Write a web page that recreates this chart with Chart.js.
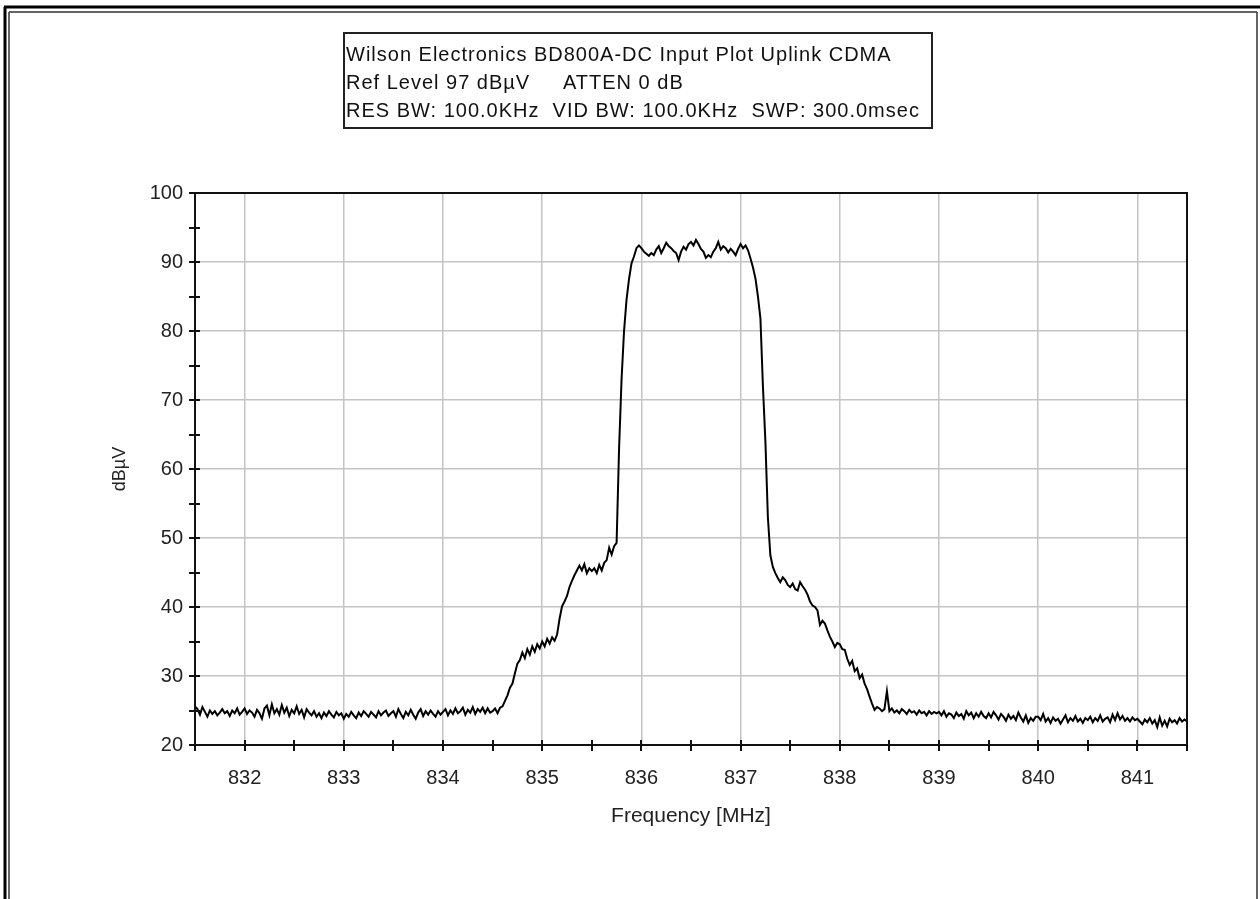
<!DOCTYPE html>
<html lang="en">
<head>
<meta charset="UTF-8">
<title>BD800A-DC Input Plot Uplink CDMA</title>
<script src="https://cdn.jsdelivr.net/npm/chart.js"></script>
<style>
  html, body { margin: 0; padding: 0; background: #fff; }
</style>
</head>
<body>
<canvas id="myChart" width="1260" height="899"></canvas>
<script>
// spectrum trace, one reading every 25 kHz starting at 831.5 MHz
const freqStart = 831.5;
const freqStep = 0.025;
const level = [
  25.6, 25.2, 24.4, 25.5, 24.8, 24.1, 25.0, 24.5, 24.9, 24.3, 24.7, 25.2, 24.6, 24.9, 24.2, 25.0, 24.6, 25.3, 24.4, 24.8, // 831.5
  25.3, 24.5, 25.0, 24.7, 24.1, 25.1, 24.6, 23.8, 25.3, 25.7, 24.3, 25.9, 24.6, 25.2, 24.4, 25.8, 24.7, 25.4, 24.2, 25.1, // 832.0
  24.6, 25.6, 24.5, 25.1, 24.0, 25.2, 24.7, 24.3, 24.9, 24.1, 24.6, 23.9, 24.7, 24.2, 24.9, 24.4, 24.0, 24.8, 24.3, 24.6, // 832.5
  23.8, 24.5, 24.1, 24.8, 24.3, 23.9, 24.7, 24.2, 24.9, 24.5, 24.1, 24.8, 24.4, 24.0, 24.9, 24.3, 24.7, 25.0, 24.2, 24.6, // 833.0
  24.9, 24.1, 25.2, 24.5, 23.9, 24.8, 24.3, 25.1, 24.4, 23.8, 24.7, 25.2, 24.2, 24.9, 24.4, 25.0, 24.5, 24.1, 24.9, 24.4, // 833.5
  24.8, 25.2, 24.3, 25.0, 24.5, 25.3, 24.6, 24.9, 25.4, 24.4, 25.1, 24.7, 25.5, 24.5, 25.2, 24.8, 25.4, 24.6, 25.3, 24.7, // 834.0
  24.9, 25.3, 24.6, 25.4, 25.6, 26.4, 27.2, 28.3, 28.9, 30.4, 31.8, 32.3, 33.4, 32.6, 33.9, 33.1, 34.3, 33.5, 34.6, 34.0, // 834.5
  35.0, 34.3, 35.4, 34.7, 35.6, 35.1, 36.0, 38.3, 40.1, 40.8, 41.6, 42.9, 43.8, 44.6, 45.3, 46.0, 45.3, 46.2, 44.9, 45.6, // 835.0
  45.2, 45.6, 44.9, 46.1, 45.3, 46.4, 46.8, 48.6, 47.6, 48.8, 49.3, 63.0, 73.0, 80.0, 84.5, 87.5, 89.8, 90.8, 92.0, 92.4, // 835.5
  92.0, 91.5, 91.2, 90.9, 91.3, 91.0, 91.8, 92.3, 91.3, 92.0, 92.8, 92.3, 92.0, 91.6, 91.3, 90.3, 91.5, 92.2, 91.8, 92.6, // 836.0
  92.9, 92.4, 93.2, 92.6, 91.9, 91.5, 90.6, 91.0, 90.7, 91.5, 92.0, 92.9, 91.8, 92.3, 92.0, 91.4, 91.9, 91.5, 91.0, 91.9, // 836.5
  92.6, 92.0, 92.4, 91.7, 90.5, 89.2, 87.6, 85.0, 81.8, 72.0, 64.0, 53.0, 47.5, 45.8, 44.9, 44.2, 43.6, 44.3, 43.9, 43.2, // 837.0
  42.9, 43.4, 42.6, 42.4, 43.6, 43.0, 42.5, 41.8, 40.8, 40.2, 40.0, 39.5, 37.4, 38.0, 37.6, 36.6, 35.7, 35.0, 34.2, 34.8, // 837.5
  34.6, 33.9, 33.8, 32.5, 31.6, 32.2, 30.7, 31.1, 29.7, 30.2, 28.9, 28.1, 27.0, 26.0, 25.1, 25.5, 25.3, 24.9, 25.2, 27.8, // 838.0
  24.9, 25.3, 24.7, 25.0, 24.6, 25.2, 24.9, 24.5, 25.1, 24.7, 24.9, 24.4, 25.0, 24.6, 24.8, 24.3, 24.9, 24.5, 24.8, 24.6, // 838.5
  24.8, 24.3, 24.9, 24.1, 24.6, 24.4, 23.9, 24.7, 24.2, 24.5, 23.8, 24.9, 24.3, 24.7, 23.9, 24.6, 24.1, 24.8, 24.2, 23.9, // 839.0
  24.6, 24.0, 24.8, 24.3, 23.7, 24.5, 24.1, 23.5, 24.4, 23.8, 24.2, 23.6, 24.7, 24.0, 23.4, 24.3, 23.2, 23.9, 23.5, 24.1, // 839.5
  24.1, 23.6, 24.5, 23.4, 23.9, 23.2, 24.0, 23.5, 23.8, 23.1, 23.7, 24.3, 23.3, 23.9, 23.5, 24.2, 23.4, 23.8, 23.2, 23.9, // 840.0
  23.6, 24.1, 23.3, 23.9, 23.5, 24.3, 23.4, 23.8, 24.0, 23.3, 24.4, 23.6, 24.6, 23.7, 24.2, 23.5, 23.9, 23.4, 24.0, 23.6, // 840.5
  23.8, 23.4, 23.0, 23.7, 23.3, 23.9, 23.1, 23.6, 22.6, 24.0, 22.8, 23.5, 22.7, 23.8, 23.3, 23.6, 23.1, 23.9, 23.4, 23.7, // 841.0
  23.4                                                                                                                     // 841.5
];

const xTicks = [832, 833, 834, 835, 836, 837, 838, 839, 840, 841];
const yTicks = [20, 30, 40, 50, 60, 70, 80, 90, 100];
const headerLines = [
  'Wilson Electronics BD800A-DC Input Plot Uplink CDMA',
  'Ref Level 97 dB\u00B5V     ATTEN 0 dB',
  'RES BW: 100.0KHz  VID BW: 100.0KHz  SWP: 300.0msec'
];

const points = level.map((v, i) => ({ x: +(freqStart + i * freqStep).toFixed(3), y: v }));
const FONT = '"Liberation Sans", Arial, sans-serif';

// frame, tick marks and header box
const decor = {
  id: 'decor',
  beforeDraw(chart) {
    const ctx = chart.ctx;
    ctx.save();
    ctx.fillStyle = '#fff';
    ctx.fillRect(0, 0, chart.width, chart.height);
    ctx.restore();
  },
  afterDraw(chart) {
    const ctx = chart.ctx;
    const xs = chart.scales.x, ys = chart.scales.y;
    const a = chart.chartArea;
    ctx.save();

    // plot frame
    ctx.strokeStyle = '#111';
    ctx.lineWidth = 2;
    ctx.strokeRect(a.left, a.top, a.right - a.left, a.bottom - a.top);

    // ticks crossing the axes
    ctx.lineWidth = 2;
    ctx.beginPath();
    for (let v = 20; v <= 100; v += 5) {
      const y = Math.round(ys.getPixelForValue(v));
      ctx.moveTo(a.left - 6, y);
      ctx.lineTo(a.left + 5, y);
    }
    for (let v = 831.5; v <= 841.5; v += 0.5) {
      const x = Math.round(xs.getPixelForValue(v));
      ctx.moveTo(x, a.bottom - 5);
      ctx.lineTo(x, a.bottom + 6);
    }
    ctx.stroke();

    // header box
    ctx.lineWidth = 2;
    ctx.strokeStyle = '#222';
    ctx.strokeRect(344, 33, 588, 95);
    ctx.fillStyle = '#111';
    ctx.font = '20px ' + FONT;
    ctx.letterSpacing = '1px';
    ctx.textBaseline = 'middle';
    ctx.textAlign = 'left';
    headerLines.forEach((t, i) => ctx.fillText(t, 346, 55 + i * 28));
    ctx.letterSpacing = '0px';

    // outer page frame
    ctx.strokeStyle = '#000';
    ctx.lineWidth = 3;
    ctx.beginPath();
    ctx.moveTo(4, 7); ctx.lineTo(1260, 7);
    ctx.moveTo(5, 7); ctx.lineTo(5, 899);
    ctx.stroke();
    ctx.lineWidth = 1.5;
    ctx.strokeStyle = '#333';
    ctx.beginPath();
    ctx.moveTo(9, 12); ctx.lineTo(1257, 12);
    ctx.moveTo(9, 12); ctx.lineTo(9, 899);
    ctx.moveTo(1257, 12); ctx.lineTo(1257, 899);
    ctx.stroke();
    ctx.restore();
  }
};

const config = {
  type: 'line',
  data: {
    datasets: [{
      data: points,
      borderColor: '#000',
      borderWidth: 2,
      pointRadius: 0,
      tension: 0,
      fill: false
    }]
  },
  options: {
    responsive: false,
    animation: false,
    layout: { padding: { left: 0, top: 193, right: 73, bottom: 0 } },
    plugins: {
      legend: { display: false },
      title: { display: false },
      tooltip: { enabled: false }
    },
    scales: {
      x: {
        type: 'linear',
        min: 831.5,
        max: 841.5,
        afterBuildTicks: s => { s.ticks = xTicks.map(v => ({ value: v })); },
        afterFit: s => { s.height = 154; },
        grid: { color: '#c4c4c4', lineWidth: 1.5, drawTicks: false },
        border: { display: false },
        ticks: { color: '#222', padding: 21, font: { family: FONT, size: 20 }, maxRotation: 0 },
        title: {
          display: true,
          text: 'Frequency [MHz]',
          color: '#222',
          font: { family: FONT, size: 21 },
          padding: { top: 0, bottom: 70 }
        }
      },
      y: {
        min: 20,
        max: 100,
        afterBuildTicks: s => { s.ticks = yTicks.map(v => ({ value: v })); },
        afterFit: s => { s.width = 195; },
        grid: { color: '#c4c4c4', lineWidth: 1.5, drawTicks: false },
        border: { display: false },
        ticks: { color: '#222', padding: 12, font: { family: FONT, size: 20 } },
        title: {
          display: true,
          text: 'dB\u00B5V',
          color: '#222',
          font: { family: FONT, size: 18 },
          padding: { top: 109, bottom: 0 }
        }
      }
    }
  },
  plugins: [decor]
};

var myChart = new Chart(document.getElementById('myChart'), config);
</script>
</body>
</html>
